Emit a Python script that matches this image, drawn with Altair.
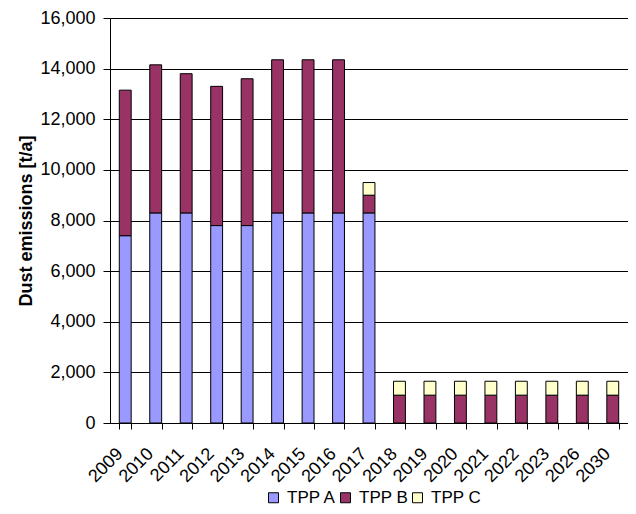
import altair as alt
import pandas as pd

years = ["2009", "2010", "2011", "2012", "2013", "2014", "2015", "2016", "2017",
         "2018", "2019", "2020", "2021", "2022", "2023", "2026", "2030"]
tpp_a = [7400, 8300, 8300, 7800, 7800, 8300, 8300, 8300, 8300,
         0, 0, 0, 0, 0, 0, 0, 0]
tpp_b = [5750, 5850, 5500, 5500, 5800, 6050, 6050, 6050, 700,
         1100, 1100, 1100, 1100, 1100, 1100, 1100, 1100]
tpp_c = [0, 0, 0, 0, 0, 0, 0, 0, 500,
         550, 550, 550, 550, 550, 550, 550, 550]
series = ["TPP A", "TPP B", "TPP C"]
colors = ["#9999FF", "#993366", "#FFFFCC"]
y_ticks = list(range(0, 16001, 2000))

rows = []
for i, y in enumerate(years):
    for k, (name, vals) in enumerate(zip(series, [tpp_a, tpp_b, tpp_c])):
        if vals[i] > 0:
            rows.append({"year": y, "series": name, "value": vals[i], "ord": k})
df = pd.DataFrame(rows)

FONT = "Liberation Sans"

chart = alt.Chart(df).mark_bar(stroke="black", strokeWidth=1).encode(
    x=alt.X("year:N", sort=years,
            scale=alt.Scale(paddingInner=0.61, paddingOuter=0.305),
            axis=alt.Axis(title=None, labelAngle=315, labelAlign="right",
                          labelBaseline="middle", labelFontSize=18,
                          labelFont=FONT, labelColor="black",
                          tickBand="extent", ticks=True, tickSize=6,
                          tickColor="black", domainColor="black",
                          labelPadding=22, labelOffset=-5.5, grid=False)),
    y=alt.Y("value:Q", stack="zero",
            scale=alt.Scale(domain=[0, 16000], nice=False),
            axis=alt.Axis(title="Dust emissions [t/a]", values=y_ticks,
                          format=",d", labelFontSize=18, labelFont=FONT,
                          labelColor="black", titleFont=FONT,
                          titleFontSize=18, titleFontWeight="bold",
                          titleColor="black", titlePadding=4,
                          tickSize=7, labelPadding=8, tickColor="black",
                          domainColor="black", grid=True,
                          gridColor="black", gridWidth=1)),
    color=alt.Color("series:N", sort=series,
                    scale=alt.Scale(domain=series, range=colors),
                    legend=alt.Legend(title=None, orient="none",
                                      direction="horizontal",
                                      legendX=155, legendY=471,
                                      symbolType="square", symbolSize=100,
                                      symbolStrokeColor="black",
                                      symbolStrokeWidth=1,
                                      symbolOpacity=1,
                                      labelFontSize=17, labelFont=FONT,
                                      labelColor="black", labelOffset=5,
                                      columnPadding=-4, symbolOffset=0)),
    order=alt.Order("ord:Q", sort="ascending"),
).properties(
    width=518, height=405,
    autosize=alt.AutoSizeParams(type="none"),
    padding={"left": 102, "top": 10, "right": 0, "bottom": 83},
).configure_view(stroke=None).configure(background="white")

chart.save("out.html", embed_options={"renderer": "svg", "actions": False})
